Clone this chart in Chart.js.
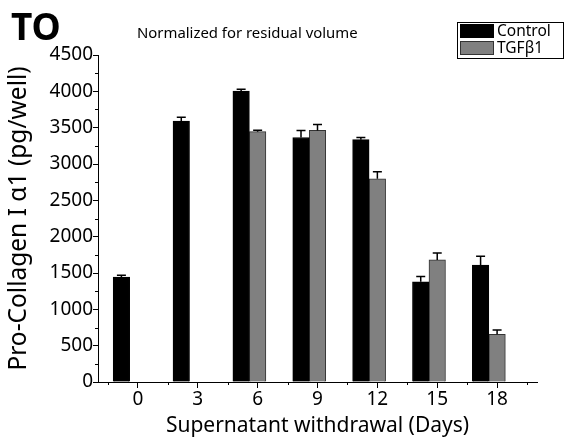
<!DOCTYPE html>
<html>
<head>
<meta charset="utf-8">
<script src="https://cdn.jsdelivr.net/npm/chart.js@4/dist/chart.umd.min.js"></script>
<style>
  html, body { margin: 0; padding: 0; background: #fff; }
  #wrap { width: 565px; height: 439px; position: relative; }
</style>
</head>
<body>
<div id="wrap"><canvas id="CollagenChart"></canvas></div>
<script>
const days = [0, 3, 6, 9, 12, 15, 18];
const controlValues = [1445, 3590, 4005, 3365, 3335, 1380, 1610];
const controlErrors = [25, 55, 22, 95, 28, 72, 122];
const tgfValues = [null, null, 3445, 3462, 2797, 1680, 656];
const tgfErrors = [0, 0, 18, 83, 95, 95, 58];
const yTicks = [0, 500, 1000, 1500, 2000, 2500, 3000, 3500, 4000, 4500];
const xMinorTicks = [-1.5, 1.5, 4.5, 7.5, 10.5, 13.5, 16.5, 19.5];
const yMinorTicks = [250, 750, 1250, 1750, 2250, 2750, 3250, 3750, 4250];

const font = "'Noto Sans', 'Open Sans', sans-serif";

// the grey bar sits on the tick, the black one just left of it
const shiftBars = {
  id: 'shiftBars',
  afterDatasetsUpdate(chart) {
    chart.data.datasets.forEach((ds, di) => {
      chart.getDatasetMeta(di).data.forEach(bar => { bar.x -= bar.width / 2; });
    });
  }
};

const errorBars = {
  id: 'errorBars',
  afterDatasetsDraw(chart) {
    const ctx = chart.ctx;
    const y = chart.scales.y;
    const errs = [controlErrors, tgfErrors];
    ctx.save();
    ctx.strokeStyle = '#000';
    ctx.lineWidth = 1.5;
    chart.data.datasets.forEach((ds, di) => {
      const meta = chart.getDatasetMeta(di);
      meta.data.forEach((bar, i) => {
        const v = ds.data[i].y;
        if (v == null || !errs[di][i]) return;
        const top = y.getPixelForValue(v + errs[di][i]);
        ctx.beginPath();
        ctx.moveTo(bar.x, bar.y);
        ctx.lineTo(bar.x, top);
        ctx.moveTo(bar.x - 4.5, top);
        ctx.lineTo(bar.x + 4.5, top);
        ctx.stroke();
      });
    });
    ctx.restore();
  }
};

const extras = {
  id: 'extras',
  afterDraw(chart) {
    const ctx = chart.ctx;
    const xs = chart.scales.x, ys = chart.scales.y;
    const area = chart.chartArea;
    ctx.save();
    ctx.strokeStyle = '#000';
    ctx.lineWidth = 1;
    ctx.beginPath();
    xMinorTicks.forEach(v => {
      const px = Math.round(xs.getPixelForValue(v)) + 0.5;
      ctx.moveTo(px, area.bottom);
      ctx.lineTo(px, area.bottom + 3);
    });
    yMinorTicks.forEach(v => {
      const py = Math.round(ys.getPixelForValue(v)) + 0.5;
      ctx.moveTo(area.left - 3, py);
      ctx.lineTo(area.left, py);
    });
    ctx.stroke();

    // titles
    ctx.fillStyle = '#000';
    ctx.textBaseline = 'alphabetic';
    ctx.font = 'bold 37px ' + font;
    ctx.fillText('TO', 11, 40);
    ctx.textBaseline = 'middle';
    ctx.font = '14.9px ' + font;
    ctx.fillText('Normalized for residual volume', 137, 34);

    // legend
    ctx.lineWidth = 1;
    ctx.strokeRect(457.5, 22.5, 106, 36);
    const ds = chart.data.datasets;
    ds.forEach((d, i) => {
      const top = 24 + i * 17;
      ctx.fillStyle = d.backgroundColor;
      ctx.fillRect(460, top, 34, 14);
      ctx.strokeStyle = d.borderColor;
      ctx.strokeRect(460.5, top + 0.5, 33, 13);
      ctx.fillStyle = '#000';
      ctx.font = '15.5px ' + font;
      ctx.fillText(d.label, 497, top + 7.5);
    });
    ctx.restore();
  }
};

const data = {
  datasets: [
    {
      label: 'Control',
      data: days.map((d, i) => ({ x: d, y: controlValues[i] })),
      backgroundColor: '#000000',
      borderColor: '#000000',
      borderWidth: 1
    },
    {
      label: 'TGFβ1',
      data: days.map((d, i) => ({ x: d, y: tgfValues[i] })),
      backgroundColor: '#808080',
      borderColor: '#333333',
      borderWidth: 1
    }
  ]
};

new Chart(document.getElementById('CollagenChart'), {
  type: 'bar',
  data: data,
  options: {
    responsive: true,
    maintainAspectRatio: false,
    animation: false,
    barThickness: 16.5,
    layout: { padding: { top: 55, right: 28, left: 0, bottom: 0 } },
    plugins: { legend: { display: false }, title: { display: false }, tooltip: { enabled: false } },
    scales: {
      x: {
        type: 'linear',
        offset: false,
        min: -2,
        max: 20,
        afterBuildTicks: s => { s.ticks = days.map(v => ({ value: v })); },
        afterFit: s => { s.height = 57; },
        grid: { drawOnChartArea: false, color: '#000', tickLength: 6, offset: false },
        border: { color: '#000', width: 1 },
        ticks: { color: '#000', font: { family: font, size: 19 }, padding: 0, maxRotation: 0, callback: v => String(v) },
        title: { display: true, text: 'Supernatant withdrawal (Days)', color: '#000', font: { family: font, size: 21 }, padding: { top: 0, bottom: 0 } }
      },
      y: {
        min: 0,
        max: 4500,
        afterBuildTicks: s => { s.ticks = yTicks.map(v => ({ value: v })); },
        afterFit: s => { s.width = 98; },
        grid: { drawOnChartArea: false, color: '#000', tickLength: 5 },
        border: { color: '#000', width: 1 },
        ticks: { color: '#000', font: { family: font, size: 19 }, padding: 0, callback: v => String(v) },
        title: { display: true, text: 'Pro-Collagen I α1 (pg/well)', color: '#000', font: { family: font, size: 24.5 }, padding: { top: 4, bottom: 0 } }
      }
    }
  },
  plugins: [shiftBars, errorBars, extras]
});
</script>
</body>
</html>
